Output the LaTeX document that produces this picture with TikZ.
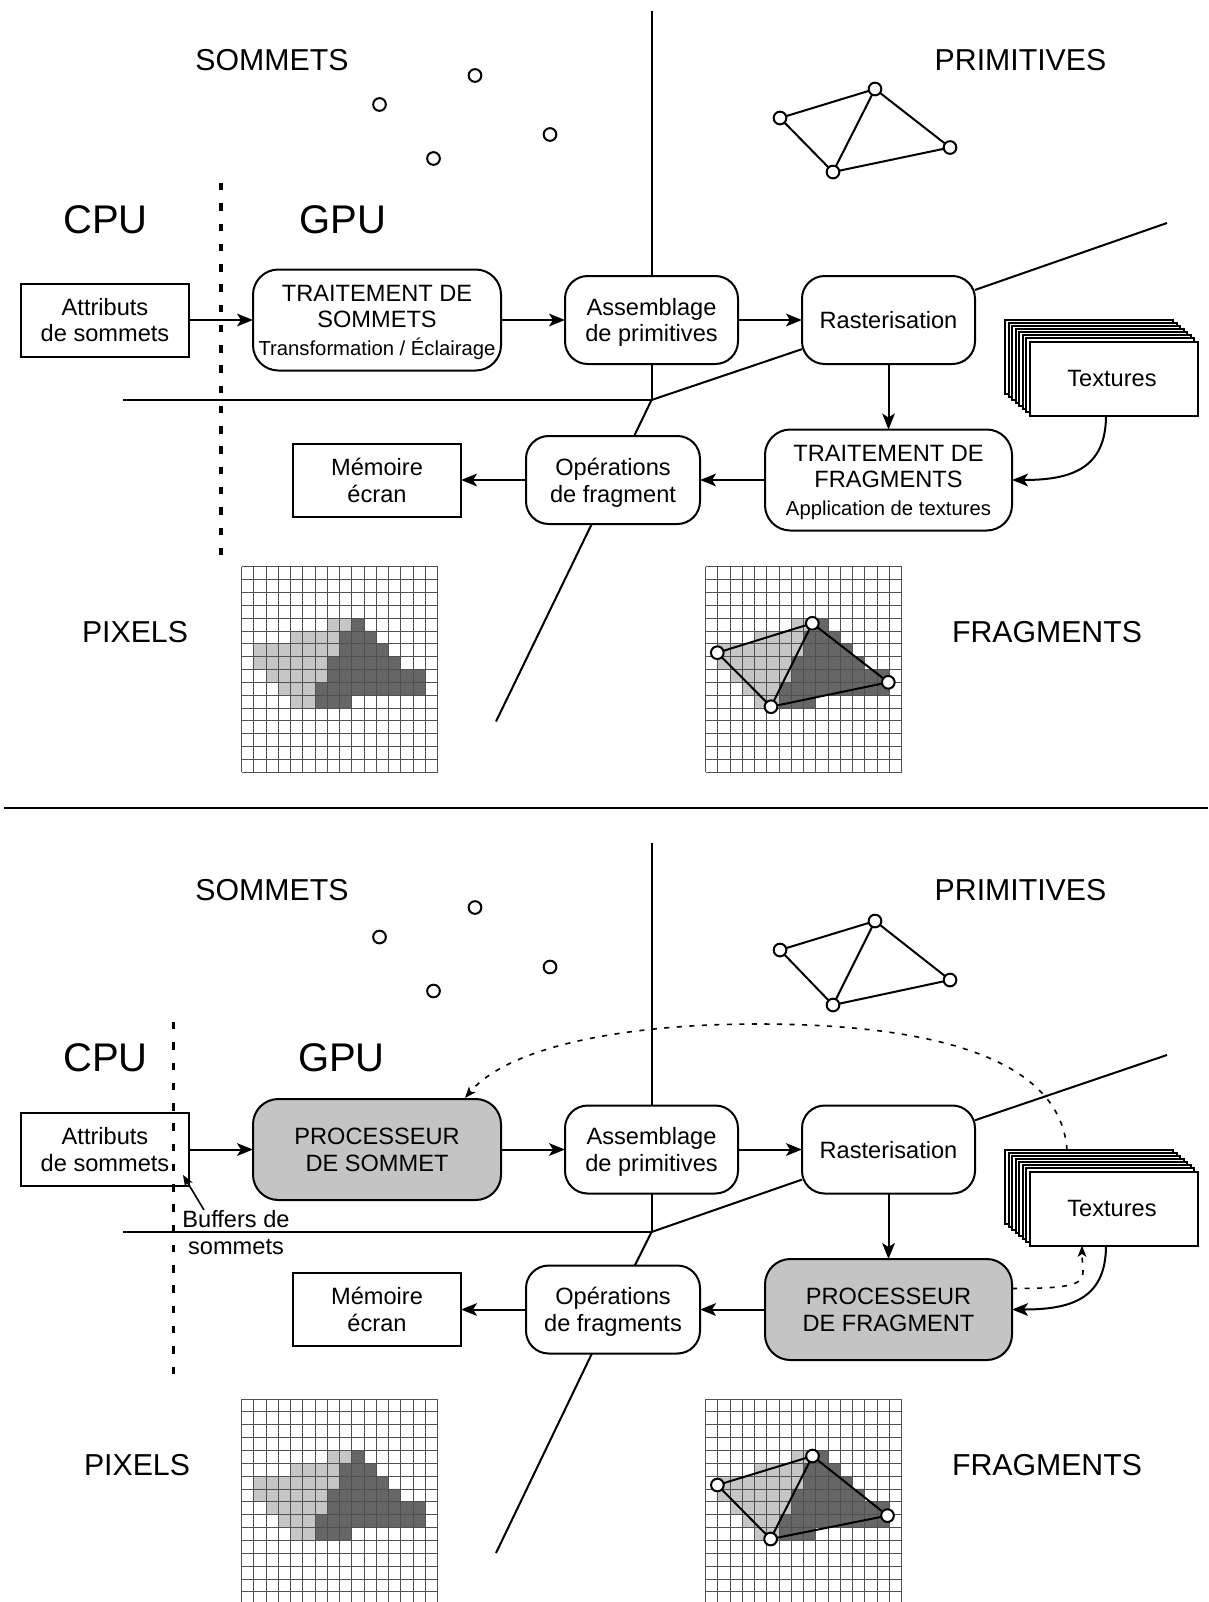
\documentclass[tikz,border=0pt]{standalone}
\usepackage{fontspec}
\setmainfont{Liberation Sans}
\usetikzlibrary{arrows.meta}
\definecolor{lightc}{HTML}{C6C6C6}
\definecolor{darkc}{HTML}{666666}
\definecolor{gridc}{HTML}{505050}
\definecolor{procfill}{HTML}{C4C4C4}
\newcommand{\txtA}{\fontsize{17.7}{20}\selectfont}
\newcommand{\txtS}{\fontsize{15.2}{20}\selectfont}
\newcommand{\txtH}{\fontsize{22.7}{26}\selectfont}
\newcommand{\txtC}{\fontsize{30}{34}\selectfont}
\newcommand{\pixgrid}[2]{%
\begin{scope}[shift={(#1,#2)},x=9.18pt,y=-9.64pt]
  \fill[lightc] (7,4) rectangle (9,5) (4,5) rectangle (8,6) (1,6) rectangle (8,7)
     (1,7) rectangle (7,8) (2,8) rectangle (7,9) (3,9) rectangle (6,10) (4,10) rectangle (6,11);
  \fill[darkc] (9,4) rectangle (10,5) (8,5) rectangle (11,6) (8,6) rectangle (12,7)
     (7,7) rectangle (13,8) (7,8) rectangle (15,9) (6,9) rectangle (15,10) (6,10) rectangle (9,11);
  \foreach \i in {0,...,16} {
    \draw[gridc,line width=0.7pt] (\i,0) -- (\i,16);
    \draw[gridc,line width=0.7pt] (0,\i) -- (16,\i);
  }
\end{scope}}
\tikzset{
  ln/.style={line width=1.5pt},
  arr/.style={ln,-{Stealth[length=12pt,width=9.5pt,inset=3pt]}},
  thinarr/.style={line width=1.2pt,-{Stealth[length=8.5pt,width=6.5pt,inset=2.2pt]}},
  smalldash/.style={dash pattern=on 3.8pt off 5.6pt},
  sz/.style 2 args={minimum width=#1*0.75pt,minimum height=#2*0.75pt,inner sep=0pt,outer sep=0pt},
  box/.style={draw,ln,fill=white,align=center,font=\txtA,text depth=0pt},
  rbox/.style={box,rounded corners=17pt},
  procbox/.style={box,rounded corners=19pt},
  greybox/.style={procbox,fill=procfill,text depth=-4pt},
  head/.style={font=\txtH,inner sep=0pt},
  big/.style={font=\txtC,inner sep=0pt},
  vert/.style={circle,draw,ln,fill=white,minimum size=9.5pt,inner sep=0pt,outer sep=0pt},
  divider/.style={line width=2.6pt,dash pattern=on 5.6pt off 9.6pt},
  txbox/.style={box,sz={168}{74}},
}
\begin{document}
\begin{tikzpicture}[x=0.75pt,y=-0.75pt]
\useasboundingbox (0,0) rectangle (1208,1602);
\clip (0,0) rectangle (1208,1602);
\fill[white] (0,0) rectangle (1208,1602);

% ---------- upper diagram ----------
\node[head] (sa) at (272,60) {SOMMETS};
\node[head] (pa) at (1020.5,60) {PRIMITIVES};
\node[head] (xa) at (135,632) {PIXELS};
\node[head] (fa) at (1047,632) {FRAGMENTS};
\node[big] (ca) at (105.5,220) {CPU};
\node[big] (ga) at (343,220) {GPU};
\node[vert] (sa1) at (379.5,104.5) {};
\node[vert] (sa2) at (475,75.5) {};
\node[vert] (sa3) at (550,134.5) {};
\node[vert] (sa4) at (433.5,158.5) {};
\node[vert] (pa1) at (780,118) {};
\node[vert] (pa2) at (875,89) {};
\node[vert] (pa3) at (950,147.5) {};
\node[vert] (pa4) at (833,172) {};
\draw[ln] (pa1) -- (pa2) -- (pa3) -- (pa4) -- (pa1) (pa2) -- (pa4);
\coordinate (da1) at (221,183);
\coordinate (da2) at (221,557);
\draw[divider] (da1) -- (da2);
\coordinate (tva) at (651.5,11);
\coordinate (spa) at (651.5,400);
\coordinate (lfa) at (123,400);
\coordinate (rta) at (1167,223);
\coordinate (bla) at (496,721.5);
\draw[ln] (lfa) -- (spa);
\node[box,sz={168}{73}] (aa) at (105,320) {Attributs\\de sommets};
\node[procbox,sz={248}{101}] (va) at (377,320) {TRAITEMENT DE\\[-0.5pt]SOMMETS\\[1pt]{\txtS Transformation / Éclairage}};
\node[rbox,sz={173}{88}] (ma) at (651.5,320) {Assemblage\\de primitives};
\node[rbox,sz={173}{88}] (ra) at (888.5,320) {Rasterisation};
\node[procbox,sz={247}{101},text depth=-7pt] (fra) at (888.5,480) {TRAITEMENT DE\\[-0.5pt]FRAGMENTS\\[1pt]{\txtS Application de textures}};
\node[rbox,sz={174}{88}] (oa) at (613,480) {Opérations\\de fragment};
\node[box,sz={168}{73}] (ea) at (377,480) {Mémoire\\écran};
\foreach \k in {0,...,6}
  \node[txbox] (ta\k) at ({1089+\k*3.57},{356.5+\k*3.14}) {};
\node[txbox,text depth=-3pt] (ta) at (1114,378.5) {Textures\hspace{3pt}};
\draw[ln] (tva) -- (ma.north) (ma.south) -- (spa);
\draw[ln] (spa) -- (ra) (ra) -- (rta);
\draw[ln] (spa) -- (oa) (oa) -- (bla);
\draw[arr] (aa) -- (va);
\draw[arr] (va) -- (ma);
\draw[arr] (ma) -- (ra);
\draw[arr] (ra) -- (fra);
\draw[arr] (fra) -- (oa);
\draw[arr] (oa) -- (ea);
\draw[arr] ([xshift=-6pt]ta.south) .. controls +(0,54) and +(58,0) .. (fra.east);
\pixgrid{241.7}{566.7}
\pixgrid{705.7}{566.7}
\node[vert] (ga1) at (717.3,652.7) {};
\node[vert] (ga2) at (812.3,623.3) {};
\node[vert] (ga3) at (888.3,682.3) {};
\node[vert] (ga4) at (771,706.7) {};
\draw[ln] (ga1) -- (ga2) -- (ga3) -- (ga4) -- (ga1) (ga2) -- (ga4);

% ---------- separator ----------
\coordinate (sl) at (4,807.5);
\coordinate (sr) at (1208,807.5);
\draw[ln] (sl) -- (sr);

% ---------- lower diagram ----------
\node[head] (sb) at (272,890.5) {SOMMETS};
\node[head] (pb) at (1020.5,890.5) {PRIMITIVES};
\node[head] (xb) at (137,1465.5) {PIXELS};
\node[head] (fb) at (1047,1465.5) {FRAGMENTS};
\node[big] (cb) at (105.5,1058) {CPU};
\node[big] (gb) at (341.5,1058) {GPU};
\node[vert] (sb1) at (379.5,937) {};
\node[vert] (sb2) at (475,907.5) {};
\node[vert] (sb3) at (550,967) {};
\node[vert] (sb4) at (433.5,991) {};
\node[vert] (pb1) at (780,950) {};
\node[vert] (pb2) at (875,921) {};
\node[vert] (pb3) at (950,980) {};
\node[vert] (pb4) at (833,1005) {};
\draw[ln] (pb1) -- (pb2) -- (pb3) -- (pb4) -- (pb1) (pb2) -- (pb4);
\coordinate (tvb) at (651.5,843);
\coordinate (spb) at (651.5,1232);
\coordinate (lfb) at (123,1232);
\coordinate (rtb) at (1167,1055);
\coordinate (blb) at (496,1553);
\draw[ln] (lfb) -- (spb);
\node[box,sz={168}{73}] (ab) at (105,1149.5) {Attributs\\de sommets};
\node[greybox,sz={248}{101}] (vb) at (377,1149.5) {PROCESSEUR\\DE SOMMET};
\node[rbox,sz={173}{88}] (mb) at (651.5,1149.5) {Assemblage\\de primitives};
\node[rbox,sz={173}{88}] (rb) at (888.5,1149.5) {Rasterisation};
\node[greybox,sz={247}{101}] (frb) at (888.5,1309.5) {PROCESSEUR\\DE FRAGMENT};
\node[rbox,sz={174}{88}] (ob) at (613,1309.5) {Opérations\\de fragments};
\node[box,sz={168}{73}] (eb) at (377,1309.5) {Mémoire\\écran};
\foreach \k in {0,...,6}
  \node[txbox] (tb\k) at ({1089+\k*3.57},{1186.5+\k*3.14}) {};
\node[txbox,text depth=-3pt] (tb) at (1114,1208.5) {Textures\hspace{3pt}};
\coordinate (db1) at (173.5,1022);
\coordinate (db2) at (173.5,1375);
\draw[divider] (db1) -- (db2);
\node[font=\txtA,align=center,inner sep=0pt] (bb) at (236,1232.5) {Buffers de\\sommets};
\coordinate (bbt) at (204,1210);
\coordinate (bbh) at (183,1175);
\draw[thinarr] (bbt) -- (bbh);
\draw[ln] (tvb) -- (mb.north) (mb.south) -- (spb);
\draw[ln] (spb) -- (rb) (rb) -- (rtb);
\draw[ln] (spb) -- (ob) (ob) -- (blb);
\draw[arr] (ab) -- (vb);
\draw[arr] (vb) -- (mb);
\draw[arr] (mb) -- (rb);
\draw[arr] (rb) -- (frb);
\draw[arr] (frb) -- (ob);
\draw[arr] (ob) -- (eb);
\draw[arr] ([xshift=-6pt]tb.south) .. controls +(0,54) and +(58,0) .. (frb.east);
\coordinate (arcs) at (1067,1150);
\coordinate (arce) at (465,1098);
\draw[thinarr,smalldash] (arcs) .. controls (1060,1050) and (910,1024) .. (757,1024)
   .. controls (630,1024) and (510,1045) .. (arce);
\draw[thinarr,smalldash] ([yshift=15.75pt]frb.east) .. controls +(85,0) and +(0,35) .. ([xshift=-24pt]tb.south);
\pixgrid{241.7}{1399}
\pixgrid{705.7}{1399}
\node[vert] (gb1) at (717.4,1485) {};
\node[vert] (gb2) at (812.5,1456) {};
\node[vert] (gb3) at (887.5,1515.6) {};
\node[vert] (gb4) at (770.6,1539) {};
\draw[ln] (gb1) -- (gb2) -- (gb3) -- (gb4) -- (gb1) (gb2) -- (gb4);
\end{tikzpicture}
\end{document}
